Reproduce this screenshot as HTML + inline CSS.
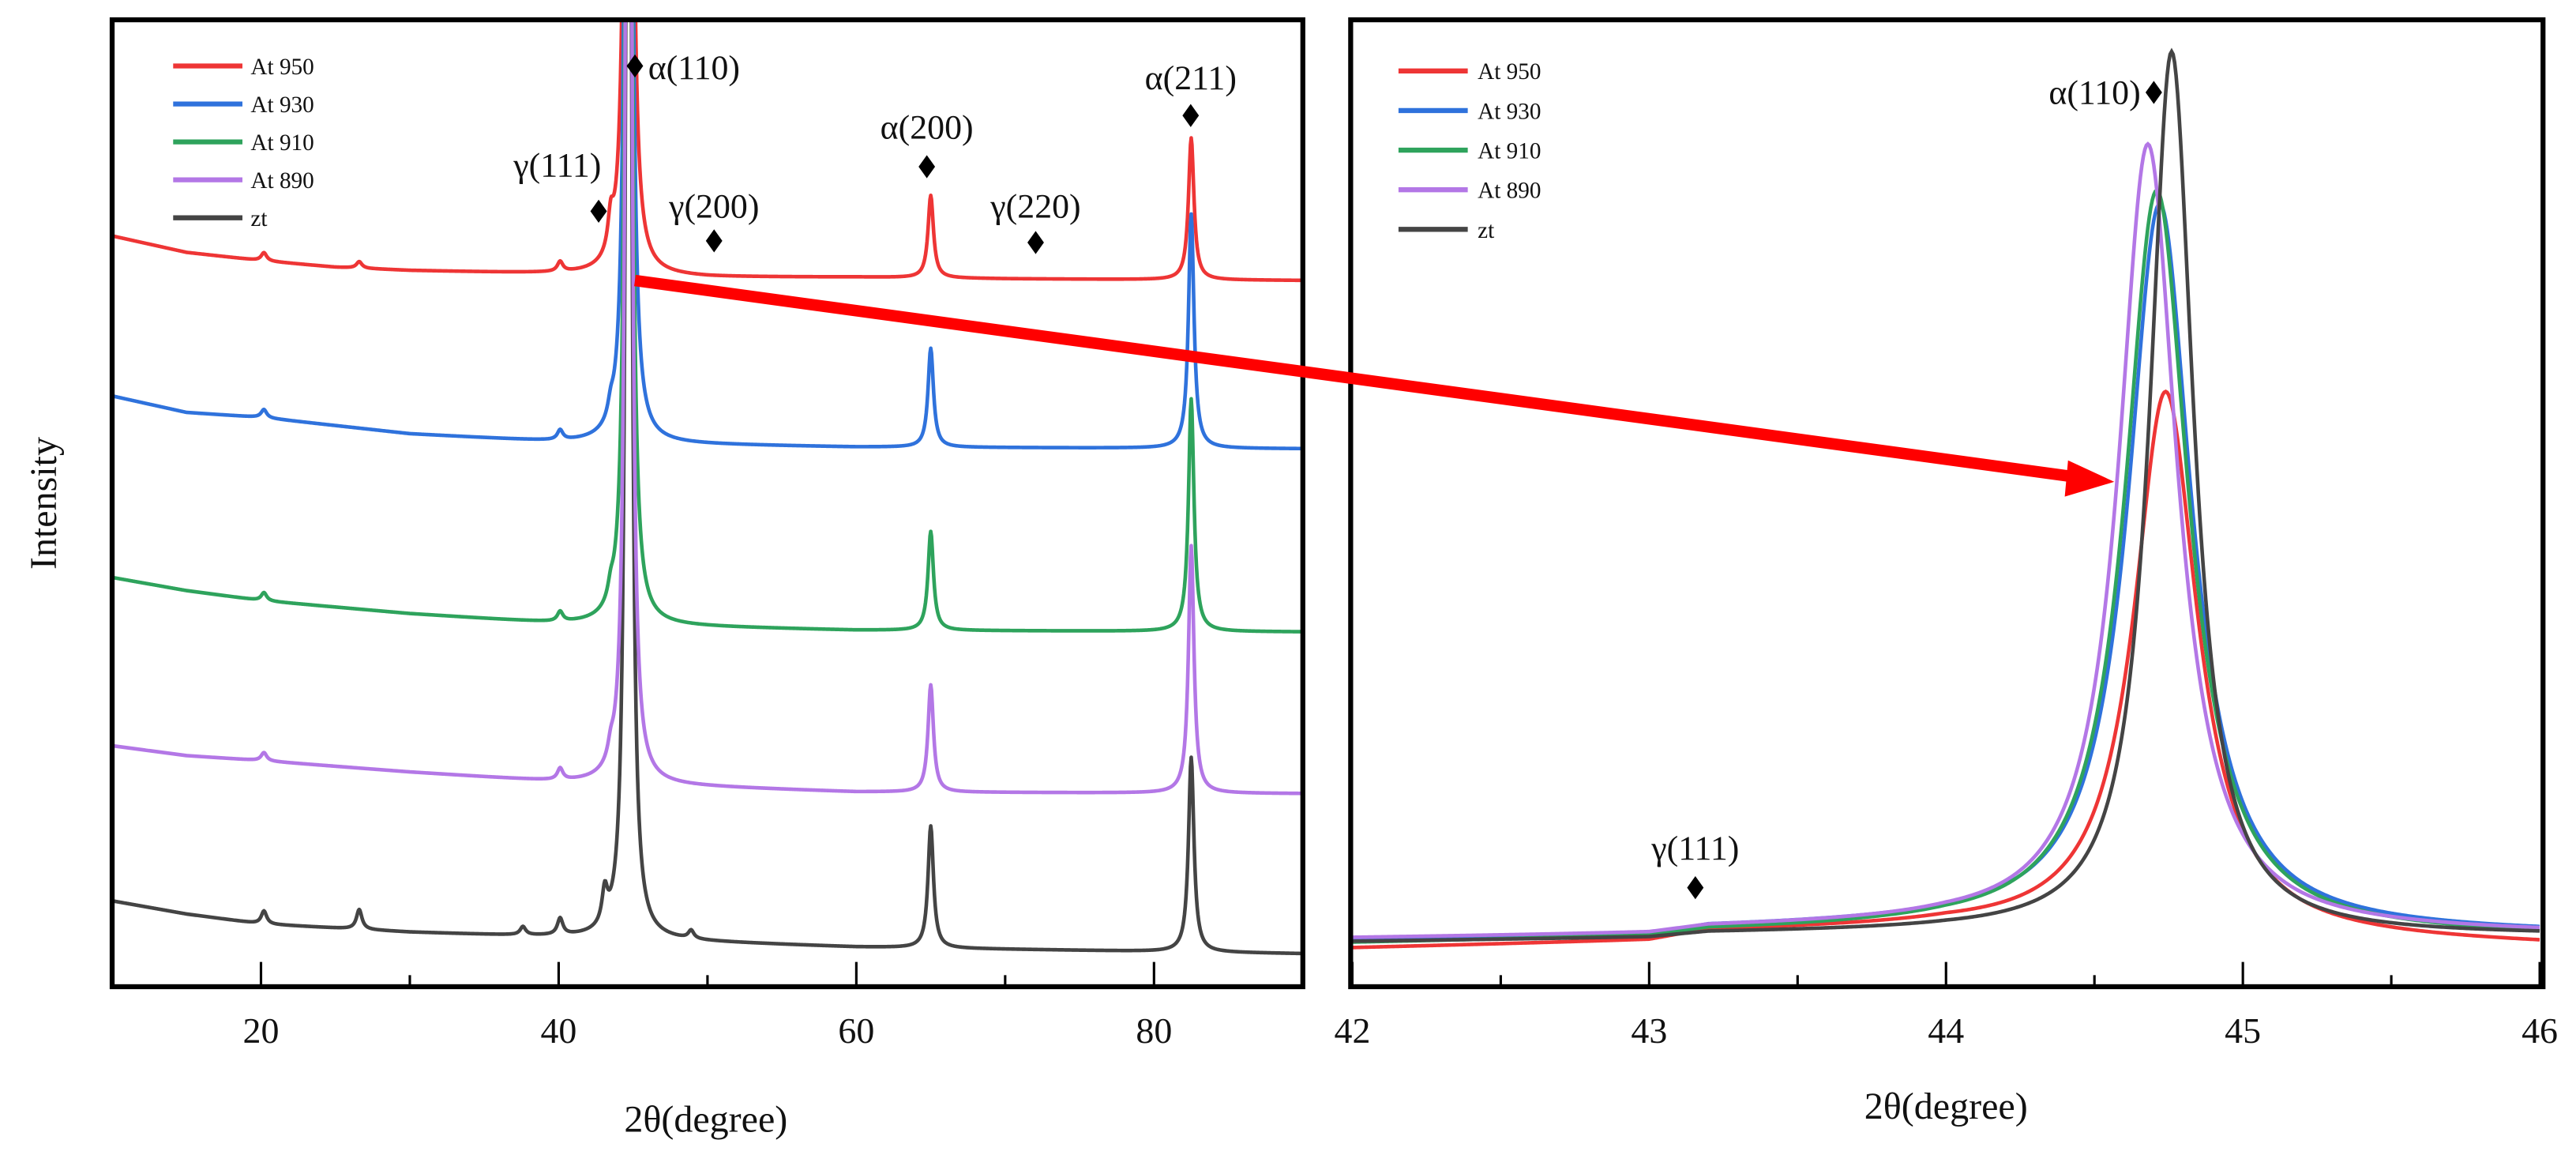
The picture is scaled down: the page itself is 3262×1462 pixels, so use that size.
<!DOCTYPE html>
<html><head><meta charset="utf-8">
<style>
html,body{margin:0;padding:0;background:#fff;}
svg{display:block;}
text{font-family:"Liberation Serif",serif;fill:#111;}
</style></head>
<body>
<svg id="chart" width="3262" height="1462" viewBox="0 0 1562 700" preserveAspectRatio="none" xmlns="http://www.w3.org/2000/svg">
<defs>
<clipPath id="clipL"><rect x="69" y="13" width="720" height="584"/></clipPath>
<clipPath id="clipR"><rect x="819" y="13" width="722" height="584"/></clipPath>
</defs>
<g id="left"></g>
<g id="right"></g>
<text x="0" y="0" font-size="23" text-anchor="middle" transform="translate(34,305) rotate(-90)">Intensity</text>
<text x="428" y="686" font-size="23" text-anchor="middle">2θ(degree)</text>
<text x="1180" y="678" font-size="23" text-anchor="middle">2θ(degree)</text>
<g>
<line x1="385" y1="170" x2="1258" y2="289" stroke="#f00" stroke-width="7"/>
<polygon points="1282,292 1254,279 1252,301" fill="#f00"/>
</g>
</svg>
<script>
// ---------- data ----------
const seriesNames = ["At 950","At 930","At 910","At 890","zt"];
const seriesColors = ["#ee3535","#2f72dc","#2ea35c","#b377e6","#444444"];
// left panel baselines: [2theta, intensity]
const leftBase950 = [[10,455],[15,445],[20,440],[25,436],[30,434],[40,432],[50,430],[60,430],[70,429],[90,428]];
const leftBase930 = [[10,358],[15,348],[20,345],[30,335],[40,330],[60,327],[90,326]];
const leftBase910 = [[10,248],[15,240],[20,234],[30,226],[40,220],[60,216],[90,215]];
const leftBase890 = [[10,146],[15,140],[20,137],[30,130],[40,124],[60,118],[90,117]];
const leftBaseZt  = [[10,52],[15,44],[20,38],[30,33],[40,30],[60,24],[90,20]];
// peaks: [position, height]
const leftPeaks950 = [[20.2,5],[26.6,4],[40.1,6],[43.5,20],[44.7,1200],[65,50],[82.5,86]];
const leftPeaks930 = [[20.2,5],[40.1,6],[43.5,8],[44.7,1200],[65,60],[82.5,142]];
const leftPeaks910 = [[20.2,5],[40.1,6],[43.5,8],[44.7,1200],[65,60],[82.5,141]];
const leftPeaks890 = [[20.2,5],[40.1,7],[43.5,8],[44.7,1200],[65,65],[82.5,150]];
const leftPeaksZt  = [[20.2,8],[26.6,12],[37.6,5],[40.1,10],[43.1,20],[44.7,1200],[48.9,5],[65,74],[82.5,118]];
// right panel baselines & main peak [pos, height, hwhm]
const rightBase950 = [[42,23],[43,27],[43.2,33],[44,35],[45.2,28],[46,25]];
const rightBase930 = [[42,28],[43,30],[43.2,35],[44,37],[45.2,33],[46,32]];
const rightBase910 = [[42,26],[43,29],[43.2,33],[44,35],[45.2,31],[46,30]];
const rightBase890 = [[42,29],[43,31],[43.2,35],[44,37],[45.2,33],[46,32]];
const rightBaseZt  = [[42,27],[43,29],[43.2,32],[44,33],[45.2,31],[46,31]];
const rightPeak950 = [44.74,330,0.13];
const rightPeak930 = [44.72,440,0.13];
const rightPeak910 = [44.71,450,0.13];
const rightPeak890 = [44.68,476,0.12];
const rightPeakZt  = [44.76,535,0.09];
const leftTicks = [20,40,60,80];
const rightTicks = [42,43,44,45,46];

// ---------- axes ----------
const xL = v => 68 + (v-10)*(722/80);
const xR = v => 820 + (v-42)*180;
const yAx = v => 598 - v;
const NS = "http://www.w3.org/2000/svg";
function mk(tag, attrs, parent){const e=document.createElementNS(NS,tag);for(const k in attrs)e.setAttribute(k,attrs[k]);parent.appendChild(e);return e;}
function interp(base,x){for(let i=0;i<base.length-1;i++){if(x>=base[i][0]&&x<=base[i+1][0]){const t=(x-base[i][0])/(base[i+1][0]-base[i][0]);return base[i][1]+t*(base[i+1][1]-base[i][1]);}}return base[base.length-1][1];}

const left=document.getElementById('left'), right=document.getElementById('right');
const gL=mk('g',{'clip-path':'url(#clipL)'},left);
const gR=mk('g',{'clip-path':'url(#clipR)'},right);

const lb=[leftBase950,leftBase930,leftBase910,leftBase890,leftBaseZt];
const lp=[leftPeaks950,leftPeaks930,leftPeaks910,leftPeaks890,leftPeaksZt];
const orderL=[0,1,2,4,3];
orderL.forEach(i=>{
  let d="";
  for(let x=10;x<=90.001;x+=0.05){
    let v=interp(lb[i],x);
    lp[i].forEach(p=>{const w=p[0]>44&&p[0]<45.5?0.18:0.22;v+=p[1]/(1+((x-p[0])/w)**2);});
    d+=(d?"L":"M")+xL(x).toFixed(2)+","+yAx(v).toFixed(2);
  }
  const path=mk('path',{d:d,fill:'none',stroke:seriesColors[i],'stroke-width':2.2,'stroke-linejoin':'round'},gL);
  
  
});

const rb=[rightBase950,rightBase930,rightBase910,rightBase890,rightBaseZt];
const rp=[rightPeak950,rightPeak930,rightPeak910,rightPeak890,rightPeakZt];
[0,1,2,3,4].forEach(i=>{
  let d="";
  for(let x=42;x<=46.001;x+=0.005){
    let v=interp(rb[i],x);
    const p=rp[i];
    v+=p[1]/(1+((x-p[0])/p[2])**2);
    d+=(d?"L":"M")+xR(x).toFixed(2)+","+yAx(v).toFixed(2);
  }
  const path=mk('path',{d:d,fill:'none',stroke:seriesColors[i],'stroke-width':2.2},gR);
  
  
});

// frames & ticks
function frame(g,x0,x1){
  const r=mk('rect',{x:x0,y:12,width:x1-x0,height:586,fill:'none',stroke:'#000','stroke-width':3},g);
  
  
}
frame(left,68,790); frame(right,819,1542);
leftTicks.forEach(t=>{
  const l=mk('line',{x1:xL(t),x2:xL(t),y1:598,y2:583,stroke:'#000','stroke-width':1.5},left);
  
  
  const tx=mk('text',{x:xL(t),y:632,'font-size':22,'text-anchor':'middle'},left);
  tx.textContent=t;
  
  
});
[30,50,70].forEach(t=>{mk('line',{x1:xL(t),x2:xL(t),y1:598,y2:591,stroke:'#000','stroke-width':1.5},left);});
rightTicks.forEach(t=>{
  const l=mk('line',{x1:xR(t),x2:xR(t),y1:598,y2:583,stroke:'#000','stroke-width':1.5},right);
  
  
  const tx=mk('text',{x:xR(t),y:632,'font-size':22,'text-anchor':'middle'},right);
  tx.textContent=t;
  
  
});
[42.5,43.5,44.5,45.5].forEach(t=>{mk('line',{x1:xR(t),x2:xR(t),y1:598,y2:591,stroke:'#000','stroke-width':1.5},right);});

// legends
function legend(g,lx,ly,step,tx){
  seriesNames.forEach((n,i)=>{
    const y=ly+i*step;
    const l=mk('line',{x1:lx,x2:lx+42,y1:y,y2:y,stroke:seriesColors[i],'stroke-width':3},g);
    
    
    const t=mk('text',{x:tx,y:y+5,'font-size':14},g);
    t.textContent=n;
    
    
  });
}
legend(left,105,40,23,152);
legend(right,848,43,24,896);

// annotations
function diamond(g,x,y){const p=mk('polygon',{points:`${x},${y-7} ${x+5},${y} ${x},${y+7} ${x-5},${y}`,fill:'#000'},g);}
function label(g,x,y,s,anchor){const t=mk('text',{x:x,y:y,'font-size':21,'text-anchor':anchor||'middle'},g);t.textContent=s;}
diamond(left,385,40); label(left,393,48,'α(110)','start');
diamond(left,363,128); label(left,338,107,'γ(111)');
diamond(left,433,146); label(left,433,132,'γ(200)');
diamond(left,562,101); label(left,562,84,'α(200)');
diamond(left,628,147); label(left,628,132,'γ(220)');
diamond(left,722,70); label(left,722,54,'α(211)');
diamond(right,1306,56); label(right,1298,63,'α(110)','end');
diamond(right,1028,538); label(right,1028,521,'γ(111)');
</script>
</body></html>
